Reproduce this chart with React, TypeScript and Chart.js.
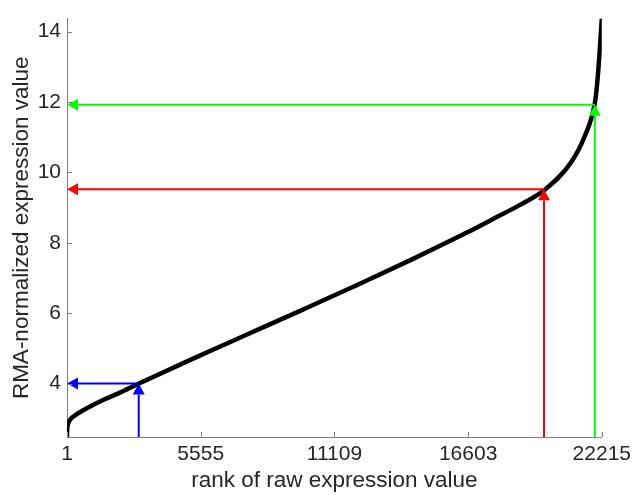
import React, { useEffect, useRef } from "react";
import { Chart, registerables } from "chart.js";

Chart.register(...registerables);

// Curve: rank of raw expression value -> RMA-normalized expression value
const curveRanks = [1, 3, 10, 40, 120, 300, 600, 1000, 1500, 2200, 2992, 5213, 7571, 9800, 12122, 14400, 16672, 17624, 18800, 19817, 20934, 21513, 21926, 22020, 22121, 22215];
const curveValues = [2.48, 2.6, 2.72, 2.84, 2.96, 3.08, 3.21, 3.36, 3.53, 3.74, 4.0, 4.7, 5.42, 6.1, 6.82, 7.55, 8.31, 8.65, 9.07, 9.49, 10.28, 11.04, 11.97, 12.5, 13.38, 14.37];

// Arrows (rank on curve -> normalized value)
const arrowRanks = [2980, 19815, 21925];
const arrowValues = [4.0, 9.52, 11.92];
const arrowColors = ["#0000ff", "#ff0000", "#00ff00"];

// Axis ticks
const xTickValues = [1, 5555, 11109, 16663, 22215];
const xTickLabels = ["1", "5555", "11109", "16603", "22215"];
const yTickValues = [4, 6, 8, 10, 12, 14];
const yTickLabels = ["4", "6", "8", "10", "12", "14"];

const xMin = 1;
const xMax = 22215;
const yMin = 2.48;
const yMax = 14.37;

const AXIS_COLOR = "#808080";
const TEXT_COLOR = "#262626";
const FONT = "'Liberation Sans', Arial, sans-serif";

const arrowPlugin = {
  id: "arrows",
  afterDatasetsDraw(chart: any) {
    const { ctx, chartArea, scales } = chart;
    const xs = scales.x;
    const ys = scales.y;
    const head = 11;
    const half = 6;
    ctx.save();
    arrowRanks.forEach((r, i) => {
      const px = xs.getPixelForValue(r);
      const py = ys.getPixelForValue(arrowValues[i]);
      const left = chartArea.left;
      const bottom = chartArea.bottom;
      ctx.strokeStyle = arrowColors[i];
      ctx.fillStyle = arrowColors[i];
      ctx.lineWidth = 2;
      // vertical
      ctx.beginPath();
      ctx.moveTo(px, bottom);
      ctx.lineTo(px, py + head);
      ctx.stroke();
      ctx.beginPath();
      ctx.moveTo(px, py);
      ctx.lineTo(px - half, py + head);
      ctx.lineTo(px + half, py + head);
      ctx.closePath();
      ctx.fill();
      // horizontal
      ctx.beginPath();
      ctx.moveTo(px, py);
      ctx.lineTo(left + head, py);
      ctx.stroke();
      ctx.beginPath();
      ctx.moveTo(left, py);
      ctx.lineTo(left + head, py - half);
      ctx.lineTo(left + head, py + half);
      ctx.closePath();
      ctx.fill();
    });
    ctx.restore();
  },
};

const innerTicksPlugin = {
  id: "innerTicks",
  afterDraw(chart: any) {
    const { ctx, chartArea, scales } = chart;
    const len = 5;
    ctx.save();
    ctx.strokeStyle = AXIS_COLOR;
    ctx.lineWidth = 1;
    ctx.beginPath();
    xTickValues.forEach((v) => {
      const px = Math.round(scales.x.getPixelForValue(v)) + 0.5;
      ctx.moveTo(px, chartArea.bottom);
      ctx.lineTo(px, chartArea.bottom - len);
    });
    yTickValues.forEach((v) => {
      const py = Math.round(scales.y.getPixelForValue(v)) + 0.5;
      ctx.moveTo(chartArea.left, py);
      ctx.lineTo(chartArea.left + len, py);
    });
    ctx.stroke();
    ctx.restore();
  },
};

export default function App() {
  const ref = useRef<HTMLCanvasElement | null>(null);

  useEffect(() => {
    if (!ref.current) return;
    const data = curveRanks.map((r, i) => ({ x: r, y: curveValues[i] }));
    const chart = new Chart(ref.current, {
      type: "line",
      data: {
        datasets: [
          {
            data,
            borderColor: "#000000",
            borderWidth: 4.5,
            pointRadius: 0,
            fill: false,
            cubicInterpolationMode: "monotone",
          },
        ],
      },
      options: {
        animation: false,
        responsive: false,
        maintainAspectRatio: false,
        layout: { padding: { left: 0, top: 15, right: 32, bottom: 0 } },
        plugins: {
          legend: { display: false },
          tooltip: { enabled: false },
        },
        scales: {
          x: {
            type: "linear",
            min: xMin,
            max: xMax,
            afterBuildTicks: (scale: any) => {
              scale.ticks = xTickValues.map((v) => ({ value: v }));
            },
            afterFit: (scale: any) => {
              scale.height = 58;
            },
            ticks: {
              autoSkip: false,
              maxRotation: 0,
              padding: 5,
              color: TEXT_COLOR,
              font: { family: FONT, size: 21 },
              callback: (v: any) => {
                const idx = xTickValues.indexOf(Number(v));
                return idx >= 0 ? xTickLabels[idx] : "";
              },
            },
            grid: { display: false, drawTicks: false },
            border: { display: true, color: AXIS_COLOR, width: 1 },
            title: {
              display: true,
              text: "rank of raw expression value",
              color: TEXT_COLOR,
              font: { family: FONT, size: 22.5 },
              padding: { top: 0, bottom: 1 },
            },
          },
          y: {
            type: "linear",
            min: yMin,
            max: yMax,
            afterBuildTicks: (scale: any) => {
              scale.ticks = yTickValues.map((v) => ({ value: v }));
            },
            afterFit: (scale: any) => {
              scale.width = 67;
            },
            ticks: {
              autoSkip: false,
              padding: 6,
              color: TEXT_COLOR,
              font: { family: FONT, size: 21 },
              callback: (v: any) => {
                const idx = yTickValues.indexOf(Number(v));
                return idx >= 0 ? yTickLabels[idx] : "";
              },
            },
            grid: { display: false, drawTicks: false },
            border: { display: true, color: AXIS_COLOR, width: 1 },
            title: {
              display: true,
              text: "RMA-normalized expression value",
              color: TEXT_COLOR,
              font: { family: FONT, size: 22.5 },
              padding: { top: 8.5, bottom: 0 },
            },
          },
        },
      },
      plugins: [arrowPlugin, innerTicksPlugin],
    });
    return () => chart.destroy();
  }, []);

  return (
    <div style={{ position: "absolute", left: 0, top: 0, width: 636, height: 495, background: "#ffffff" }}>
      <canvas ref={ref} width={636} height={495} />
    </div>
  );
}
